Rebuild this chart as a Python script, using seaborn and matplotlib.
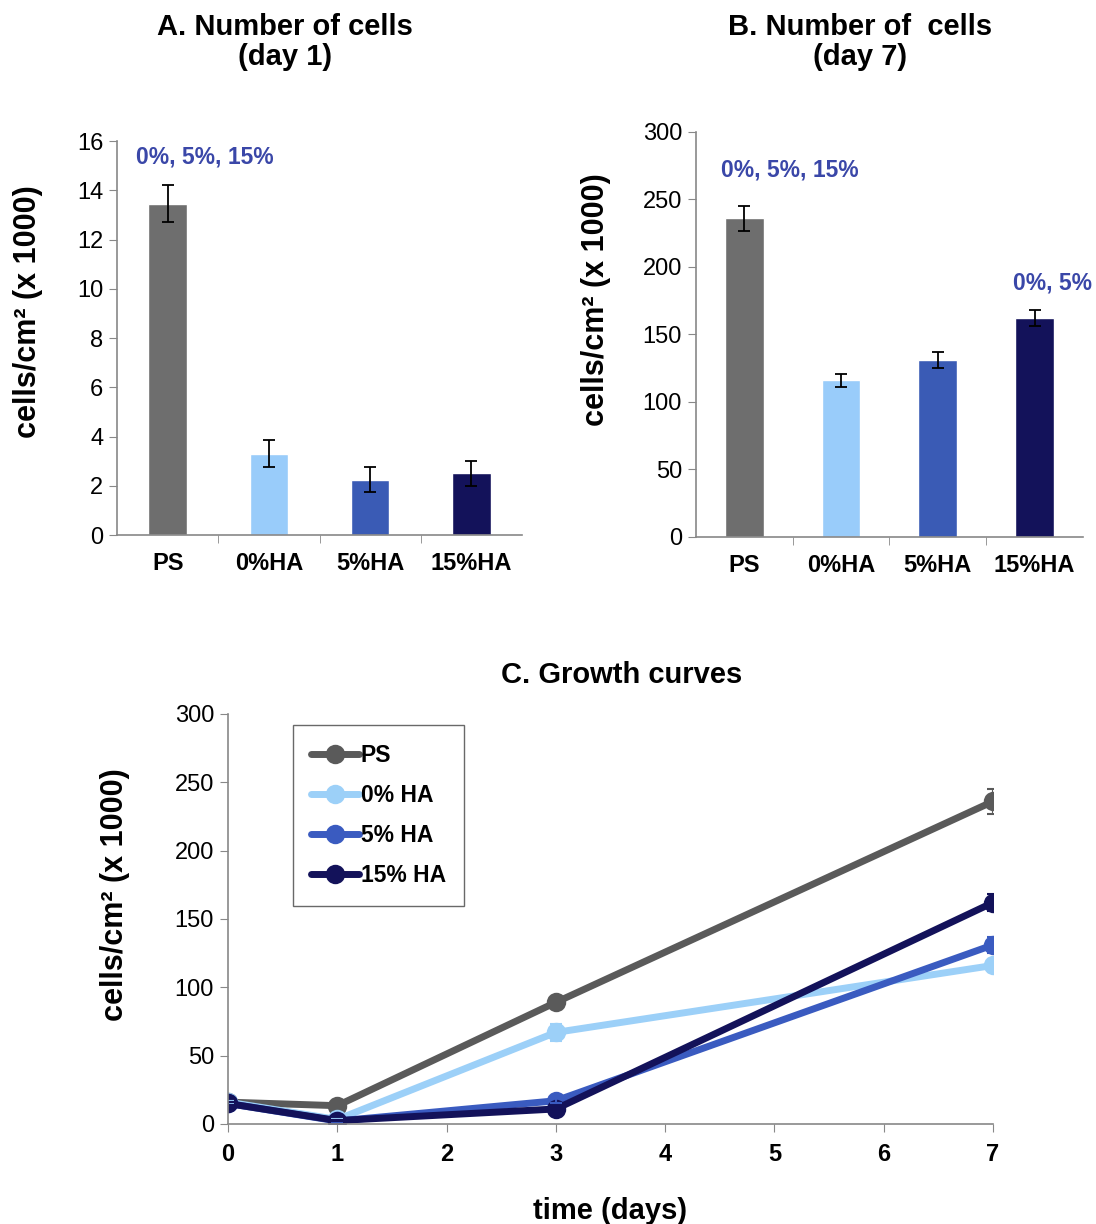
import numpy as np
import pandas as pd
import matplotlib
matplotlib.use("Agg")
import matplotlib.pyplot as plt
import seaborn as sns

# values
groups = ["PS", "0%HA", "5%HA", "15%HA"]
day1_mean = [13.45, 3.3, 2.25, 2.5]
day1_sd = [0.75, 0.55, 0.5, 0.5]
day7_mean = [236, 116, 131, 162]
day7_sd = [9, 5, 6, 6]

series = ["PS", "0% HA", "5% HA", "15% HA"]
days = [0, 1, 3, 7]
growth_ps = [16, 13.4, 89, 236]
growth_0 = [16, 3.3, 67, 116]
growth_5 = [15, 2.2, 17, 131]
growth_15 = [15, 2.5, 11, 162]
growth_sd_ps = [1, 0.8, 3, 9]
growth_sd_0 = [1, 0.6, 6, 5]
growth_sd_5 = [1, 0.5, 2, 6]
growth_sd_15 = [1, 0.5, 2, 6]

colors = ["#6e6e6e", "#99ccfa", "#3a5bb5", "#13125a"]
line_colors = ["#5a5a5a", "#9cd0f8", "#3a5bc0", "#13125a"]
note_color = "#3a47a8"
ylab = "cells/cm² (x 1000)"

sns.set_style("white")
plt.rcParams["font.family"] = ["Liberation Sans", "DejaVu Sans"]
plt.rcParams["text.color"] = "black"
plt.rcParams["axes.labelcolor"] = "black"

fig = plt.figure(figsize=(10.96, 12.24), dpi=100)


def style_axis(ax):
    for s in ["top", "right"]:
        ax.spines[s].set_visible(False)
    for s in ["left", "bottom"]:
        ax.spines[s].set_color("#888888")
        ax.spines[s].set_linewidth(1.2)
    ax.tick_params(axis="y", direction="out", length=6, color="#888888",
                   labelcolor="black", labelsize=17, left=True, pad=4)


def style_bar_axis(ax, ymax, step):
    ax.set_ylim(0, ymax)
    ax.set_xlim(-0.5, 3.5)
    ax.set_yticks(np.arange(0, ymax + 1, step))
    style_axis(ax)
    ax.tick_params(axis="x", which="major", length=0, labelsize=17,
                   labelcolor="black", pad=12)
    ax.set_xticks([0.5, 1.5, 2.5], minor=True)
    ax.tick_params(axis="x", which="minor", direction="out", length=6,
                   color="#888888", bottom=True)
    for lab in ax.get_xticklabels():
        lab.set_fontweight("bold")
    ax.set_xlabel("")
    ax.set_ylabel(ylab, fontsize=22, fontweight="bold")


# panel A
axA = fig.add_axes([0.1068, 0.5629, 0.3695, 0.3219])
dfA = pd.DataFrame({"group": groups, "cells": day1_mean})
sns.barplot(data=dfA, x="group", y="cells", hue="group", palette=colors,
            width=0.38, legend=False, ax=axA, saturation=1)
axA.errorbar(range(len(groups)), day1_mean, yerr=day1_sd, fmt="none",
             ecolor="black", elinewidth=1.3, capsize=4, capthick=1.3)
style_bar_axis(axA, 16, 2)
axA.yaxis.set_label_coords(-0.183, 0.566)
axA.text(0.37, 15.35, "0%, 5%, 15%", color=note_color, fontsize=16.5,
         fontweight="bold", ha="center", va="center")
fig.text(285 / 1096, 1 - 42 / 1224, "A. Number of cells\n(day 1)", fontsize=21,
         fontweight="bold", ha="center", va="center", linespacing=1.05)

# panel B
axB = fig.add_axes([0.635, 0.5613, 0.3531, 0.3309])
dfB = pd.DataFrame({"group": groups, "cells": day7_mean})
sns.barplot(data=dfB, x="group", y="cells", hue="group", palette=colors,
            width=0.4, legend=False, ax=axB, saturation=1)
axB.errorbar(range(len(groups)), day7_mean, yerr=day7_sd, fmt="none",
             ecolor="black", elinewidth=1.3, capsize=4, capthick=1.3)
style_bar_axis(axB, 300, 50)
axB.yaxis.set_label_coords(-0.22, 0.585)
axB.text(0.47, 272, "0%, 5%, 15%", color=note_color, fontsize=16.5,
         fontweight="bold", ha="center", va="center")
axB.text(3.19, 188, "0%, 5%", color=note_color, fontsize=16.5,
         fontweight="bold", ha="center", va="center", clip_on=False)
fig.text(860 / 1096, 1 - 42 / 1224, "B. Number of  cells\n(day 7)", fontsize=21,
         fontweight="bold", ha="center", va="center", linespacing=1.05)

# panel C
axC = fig.add_axes([0.208, 0.0817, 0.698, 0.335])
means = [growth_ps, growth_0, growth_5, growth_15]
sds = [growth_sd_ps, growth_sd_0, growth_sd_5, growth_sd_15]
dfC = pd.DataFrame({
    "day": days * 4,
    "cells": sum(means, []),
    "series": [s for s in series for _ in days],
})
sns.lineplot(data=dfC, x="day", y="cells", hue="series", palette=line_colors,
             marker="o", markersize=14, linewidth=5, markeredgewidth=0,
             ax=axC, legend=True)
for m, sd, c in zip(means, sds, line_colors):
    axC.errorbar(days, m, yerr=sd, fmt="none", ecolor=c, elinewidth=1.5,
                 capsize=4, capthick=1.5)
axC.set_xlim(0, 7)
axC.set_ylim(0, 300)
axC.set_xticks(range(8))
axC.set_yticks(range(0, 301, 50))
style_axis(axC)
axC.tick_params(axis="x", direction="out", length=6, color="#888888",
                labelcolor="black", labelsize=17, bottom=True, pad=8)
for lab in axC.get_xticklabels():
    lab.set_fontweight("bold")
axC.set_xlabel("time (days)", fontsize=21, fontweight="bold", labelpad=22)
axC.set_ylabel(ylab, fontsize=22, fontweight="bold")
axC.yaxis.set_label_coords(-0.128, 0.559)
fig.text(622 / 1096, 1 - 675 / 1224, "C. Growth curves", fontsize=21,
         fontweight="bold", ha="center", va="center")
leg = axC.legend(title=None, loc="upper left", bbox_to_anchor=(0.07, 1.0),
                 frameon=True, fancybox=False, edgecolor="#444444",
                 prop={"weight": "bold", "size": 16.5}, handlelength=2.1,
                 handletextpad=0.05, labelspacing=0.75, borderpad=0.8)
leg.get_frame().set_linewidth(1.0)

fig.savefig("out.png", dpi=100)
